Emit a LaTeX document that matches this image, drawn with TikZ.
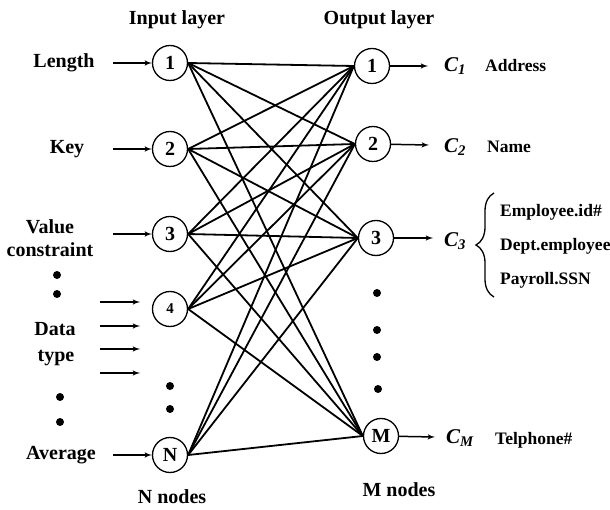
\documentclass[tikz,border=0pt]{standalone}
\usepackage{fontspec}
\setmainfont{Liberation Serif}
\usepackage{tikz}
\usetikzlibrary{arrows,decorations.pathreplacing}
\tikzstyle{neuron} = [draw, circle, line width=1.3pt, minimum size=35pt, inner sep=0pt, font=\fontsize{20}{24}\selectfont\bfseries]
\tikzstyle{dot} = [fill, circle, inner sep=0pt, minimum size=8pt]
\tikzstyle{txt} = [font=\fontsize{20}{23}\selectfont\bfseries, align=center, inner sep=0pt]
\tikzstyle{tag} = [font=\fontsize{17.5}{20}\selectfont\bfseries, inner sep=0pt, anchor=west]
\tikzstyle{cls} = [font=\fontsize{21}{24}\selectfont\bfseries\itshape, inner sep=0pt]
\tikzstyle{input} = [coordinate]
\tikzstyle{output} = [coordinate]
\tikzstyle{link} = [line width=1.8pt]
\tikzstyle{feed} = [->, line width=1.5pt]

\begin{document}
\begin{tikzpicture}[x=1pt, y=-1pt, >=latex']
\useasboundingbox (0,0) rectangle (610,510);
% Nodes
	\node [neuron] (in1) at (170,63) {1};
	\node [neuron, below of=in1, node distance = 86pt] (in2) {2};
	\node [neuron, below of=in2, node distance = 85pt] (in3) {3};
	\node [neuron, below of=in3, node distance = 75pt, font=\fontsize{15}{18}\selectfont\bfseries] (in4) {4};
	\node [dot, below of=in4, node distance = 77pt] (idot1) {};
	\node [dot, below of=idot1, node distance = 23pt] (idot2) {};
	\node [neuron, below of=in4, node distance = 146pt] (inN) {N};
	\node [neuron] (out1) at (372,66) {1};
	\node [neuron] (out2) at (373,144) {2};
	\node [neuron] (out3) at (376,238) {3};
	\node [dot] (odot1) at (377,293) {};
	\node [dot] (odot2) at (377,330) {};
	\node [dot] (odot3) at (377,357) {};
	\node [dot] (odot4) at (378,389) {};
	\node [neuron] (outM) at (381,436) {M};
% Inputs
	\node [input] (a1) at (113,63) {};
	\node [input] (a2) at (113,149) {};
	\node [input] (a3) at (113,234) {};
	\node [input] (aN) at (113,455) {};
	\node [input] (s1) at (100,302) {};
	\node [input] (e1) at (140,302) {};
	\node [input] (s2) at (100,326) {};
	\node [input] (e2) at (140,326) {};
	\node [input] (s3) at (100,349) {};
	\node [input] (e3) at (140,349) {};
	\node [input] (s4) at (100,373) {};
	\node [input] (e4) at (140,373) {};
	\node [output] (c1) at (428,66) {};
	\node [output] (c2) at (429,145) {};
	\node [output] (c3) at (433,238) {};
	\node [output] (cM) at (435,437) {};
	\node [output] (b1) at (494,297) {};
	\node [output] (b2) at (494,193) {};
% Connections
	\draw [feed] (a1) -- (in1);
	\draw [feed] (a2) -- (in2);
	\draw [feed] (a3) -- (in3);
	\draw [feed] (aN) -- (inN);
	\draw [feed] (s1) -- (e1);
	\draw [feed] (s2) -- (e2);
	\draw [feed] (s3) -- (e3);
	\draw [feed] (s4) -- (e4);
	\draw [link] (in1.east) -- (out1.west);
	\draw [link] (in1.east) -- (out2.west);
	\draw [link] (in1.east) -- (out3.west);
	\draw [link] (in1.east) -- (outM.west);
	\draw [link] (in2.east) -- (out1.west);
	\draw [link] (in2.east) -- (out2.west);
	\draw [link] (in2.east) -- (out3.west);
	\draw [link] (in2.east) -- (outM.west);
	\draw [link] (in3.east) -- (out1.west);
	\draw [link] (in3.east) -- (out2.west);
	\draw [link] (in3.east) -- (out3.west);
	\draw [link] (in3.east) -- (outM.west);
	\draw [link] (in4.east) -- (out1.west);
	\draw [link] (in4.east) -- (out2.west);
	\draw [link] (in4.east) -- (out3.west);
	\draw [link] (in4.east) -- (outM.west);
	\draw [link] (inN.east) -- (out1.west);
	\draw [link] (inN.east) -- (out2.west);
	\draw [link] (inN.east) -- (out3.west);
	\draw [link] (inN.east) -- (outM.west);
	\draw [feed] (out1) -- (c1);
	\draw [feed] (out2) -- (c2);
	\draw [feed] (out3) -- (c3);
	\draw [feed] (outM) -- (cM);
	\draw [line width=1.3pt, decorate, decoration={brace, amplitude=18pt}] (b1) -- (b2);
% Notations
	\node [txt] (inTitle) at (177,20) {Input layer};
	\node [txt] (outTitle) at (379,20) {Output layer};
	\node [txt] (nNodes) at (172,497) {N nodes};
	\node [txt] (mNodes) at (399,490) {M nodes};
	\node [txt] (length) at (64,63) {Length};
	\node [txt] (key) at (67,149) {Key};
	\node [txt] (value) at (50,238) {Value\\constraint};
	\node [dot] (ldot1) at (57,275) {};
	\node [dot] (ldot2) at (57,294) {};
	\node [txt] (data) at (55,329) {Data};
	\node [txt] (type) at (56,358) {type};
	\node [dot] (ldot3) at (60,397) {};
	\node [dot] (ldot4) at (60,422) {};
	\node [txt] (average) at (61,455) {Average};
	\node [cls] (C1) at (455,66) {C\textsubscript{1}};
	\node [cls] (C2) at (455,147) {C\textsubscript{2}};
	\node [cls] (C3) at (455,241) {C\textsubscript{3}};
	\node [cls] (CM) at (460,438) {C\textsubscript{M}};
	\node [tag] (address) at (485,66) {Address};
	\node [tag] (name) at (487,147) {Name};
	\node [tag] (empid) at (500,212) {Employee.id\#};
	\node [tag] (dept) at (500,246) {Dept.employee};
	\node [tag] (payroll) at (500,280) {Payroll.SSN};
	\node [tag] (phone) at (495,440) {Telphone\#};
\end{tikzpicture}
\end{document}
